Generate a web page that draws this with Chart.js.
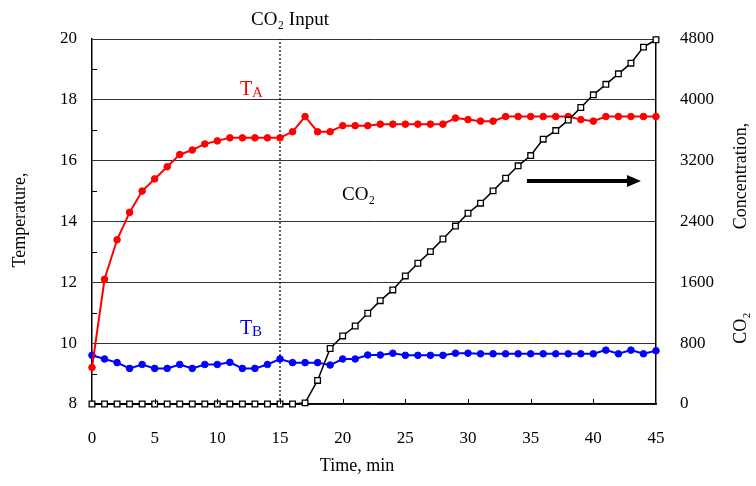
<!DOCTYPE html>
<html>
<head>
<meta charset="utf-8">
<script src="https://cdn.jsdelivr.net/npm/chart.js@4.4.0/dist/chart.umd.min.js"></script>
<style>
  html, body { margin: 0; padding: 0; background: #fff; }
  #wrap { width: 756px; height: 486px; }
</style>
</head>
<body>
<div id="wrap"><canvas id="chart" width="756" height="486"></canvas></div>
<script>
// Time axis, minutes
const timeMin = [0, 1, 2, 3, 4, 5, 6, 7, 8, 9, 10, 11, 12, 13, 14, 15, 16, 17, 18, 19, 20, 21, 22,
  23, 24, 25, 26, 27, 28, 29, 30, 31, 32, 33, 34, 35, 36, 37, 38, 39, 40, 41, 42, 43, 44, 45];

// Temperature A (red)
const tempA = [9.2, 12.1, 13.4, 14.3, 15.0, 15.4, 15.8, 16.2, 16.35, 16.55, 16.65, 16.75, 16.75, 16.75,
  16.75, 16.75, 16.95, 17.45, 16.95, 16.95, 17.15, 17.15, 17.15, 17.2, 17.2, 17.2, 17.2, 17.2, 17.2,
  17.4, 17.35, 17.3, 17.3, 17.45, 17.45, 17.45, 17.45, 17.45, 17.45, 17.35, 17.3, 17.45, 17.45, 17.45,
  17.45, 17.45];

// Temperature B (blue)
const tempB = [9.6, 9.48, 9.36, 9.17, 9.3, 9.17, 9.17, 9.3, 9.17, 9.3, 9.3, 9.37, 9.17, 9.17, 9.3,
  9.48, 9.36, 9.36, 9.36, 9.28, 9.48, 9.48, 9.61, 9.61, 9.67, 9.6, 9.6, 9.6, 9.6, 9.67, 9.67, 9.65,
  9.65, 9.65, 9.65, 9.65, 9.65, 9.65, 9.65, 9.65, 9.65, 9.77, 9.65, 9.77, 9.65, 9.75];

// CO2 concentration (right axis)
const co2 = [0, 0, 0, 0, 0, 0, 0, 0, 0, 0, 0, 0, 0, 0, 0, 0, 0, 15, 310, 730, 895, 1026, 1193, 1359,
  1500, 1684, 1851, 2004, 2170, 2340, 2509, 2641, 2803, 2970, 3132, 3267, 3483, 3596, 3733, 3899,
  4066, 4204, 4342, 4482, 4693, 4790];

// CO2 input time and the axis ranges
const co2InputTime = 15;
const tempRange = [8, 20];
const co2Range = [0, 4800];

const serif = "'Liberation Serif', 'DejaVu Serif', serif";

const toPoints = (xs, ys) => xs.map((x, i) => ({ x: x, y: ys[i] }));

// Draws titles, labels, arrow and the inward tick marks
const decorations = {
  id: "decorations",
  afterDraw(chart) {
    const ctx = chart.ctx;
    const x = chart.scales.x;
    const y = chart.scales.y;
    const area = chart.chartArea;

    ctx.save();
    ctx.strokeStyle = "#000";
    ctx.lineWidth = 1;
    // inward ticks on the x axis
    for (let t = 5; t < 45; t += 5) {
      const px = Math.round(x.getPixelForValue(t)) + 0.5;
      ctx.beginPath();
      ctx.moveTo(px, area.bottom);
      ctx.lineTo(px, area.bottom - 5);
      ctx.stroke();
    }
    // minor ticks on the left axis
    for (let v = 9; v < 20; v += 2) {
      const py = Math.round(y.getPixelForValue(v)) + 0.5;
      ctx.beginPath();
      ctx.moveTo(area.left, py);
      ctx.lineTo(area.left + 5, py);
      ctx.stroke();
    }

    // arrow pointing to the right axis
    const ay = y.getPixelForValue(15.33);
    const ax0 = x.getPixelForValue(34.7);
    const ax1 = x.getPixelForValue(43.8);
    ctx.lineWidth = 4;
    ctx.beginPath();
    ctx.moveTo(ax0, ay);
    ctx.lineTo(ax1 - 12, ay);
    ctx.stroke();
    ctx.fillStyle = "#000";
    ctx.beginPath();
    ctx.moveTo(ax1, ay);
    ctx.lineTo(ax1 - 14, ay - 6);
    ctx.lineTo(ax1 - 14, ay + 6);
    ctx.closePath();
    ctx.fill();

    // series labels
    ctx.textBaseline = "alphabetic";
    ctx.textAlign = "left";
    const sub = (main, s, color, tx, ty) => {
      const px = x.getPixelForValue(tx);
      const py = y.getPixelForValue(ty);
      ctx.fillStyle = color;
      ctx.font = "20px " + serif;
      ctx.fillText(main, px, py);
      const w = ctx.measureText(main).width;
      ctx.font = "15px " + serif;
      ctx.fillText(s, px + w, py + 2);
    };
    sub("T", "A", "#ff0000", 11.8, 18.15);
    sub("T", "B", "#0000ff", 11.8, 10.3);

    ctx.fillStyle = "#000";
    ctx.font = "19px " + serif;
    ctx.fillText("CO₂", x.getPixelForValue(19.95), y.getPixelForValue(14.72));

    // title above the plot
    ctx.textAlign = "center";
    ctx.textBaseline = "middle";
    ctx.font = "19px " + serif;
    ctx.fillText("CO₂ Input", 290, 20);

    // axis titles
    ctx.font = "18px " + serif;
    ctx.fillText("Time, min", 357, 466);

    ctx.save();
    ctx.translate(20, 220);
    ctx.rotate(-Math.PI / 2);
    ctx.fillText("Temperature,", 0, 0);
    ctx.restore();

    ctx.save();
    ctx.translate(741, 176);
    ctx.rotate(-Math.PI / 2);
    ctx.fillText("Concentration,", 0, 0);
    ctx.restore();

    ctx.save();
    ctx.translate(741, 328);
    ctx.rotate(-Math.PI / 2);
    ctx.fillText("CO₂", 0, 0);
    ctx.restore();

    ctx.restore();
  }
};

new Chart(document.getElementById("chart").getContext("2d"), {
  type: "line",
  data: {
    datasets: [
      {
        label: "CO2",
        data: toPoints(timeMin, co2),
        yAxisID: "y2",
        borderColor: "#000",
        borderWidth: 1.5,
        pointStyle: "rect",
        pointRadius: 4,
        pointBorderWidth: 1.3,
        pointBackgroundColor: "#fff",
        pointBorderColor: "#000",
        clip: false,
        order: 0
      },
      {
        label: "TA",
        data: toPoints(timeMin, tempA),
        yAxisID: "y",
        borderColor: "#ff0000",
        borderWidth: 2,
        pointRadius: 3.3,
        pointBorderWidth: 1,
        pointBackgroundColor: "#ff0000",
        pointBorderColor: "#ff0000",
        clip: false,
        order: 1
      },
      {
        label: "TB",
        data: toPoints(timeMin, tempB),
        yAxisID: "y",
        borderColor: "#0000ff",
        borderWidth: 2,
        pointRadius: 3.3,
        pointBorderWidth: 1,
        pointBackgroundColor: "#0000ff",
        pointBorderColor: "#0000ff",
        clip: false,
        order: 2
      },
      {
        label: "CO2 input",
        data: [{ x: co2InputTime, y: tempRange[0] }, { x: co2InputTime, y: tempRange[1] }],
        yAxisID: "y",
        borderColor: "#000",
        borderWidth: 1.2,
        borderDash: [2, 2],
        pointRadius: 0,
        order: 3
      }
    ]
  },
  options: {
    responsive: false,
    animation: false,
    layout: { padding: { top: 39, left: 0, right: 0, bottom: 0 } },
    plugins: {
      legend: { display: false },
      tooltip: { enabled: false }
    },
    scales: {
      x: {
        type: "linear",
        min: 0,
        max: 45,
        grid: { display: false, drawTicks: false },
        border: { display: true, color: "#000", width: 1.5 },
        ticks: { stepSize: 5, padding: 24, color: "#000", font: { family: serif, size: 17 } },
        afterFit: (scale) => { scale.height = 82; }
      },
      y: {
        position: "left",
        min: tempRange[0],
        max: tempRange[1],
        grid: {
          drawTicks: false,
          color: (c) => (c.tick.value % 2 === 0 ? "#333" : "rgba(0,0,0,0)"),
          lineWidth: 1
        },
        border: { display: true, color: "#000", width: 1.5 },
        ticks: {
          stepSize: 1,
          padding: 15,
          color: "#000",
          font: { family: serif, size: 17 },
          callback: (v) => (v % 2 === 0 ? v : "")
        },
        afterFit: (scale) => { scale.width = 92; }
      },
      y2: {
        position: "right",
        min: co2Range[0],
        max: co2Range[1],
        grid: { display: false, drawTicks: false },
        border: { display: true, color: "#000", width: 1.5 },
        ticks: {
          stepSize: 800,
          padding: 24,
          color: "#000",
          font: { family: serif, size: 17 },
          callback: (v) => String(v)
        },
        afterFit: (scale) => { scale.width = 100; }
      }
    }
  },
  plugins: [decorations]
});
</script>
</body>
</html>
